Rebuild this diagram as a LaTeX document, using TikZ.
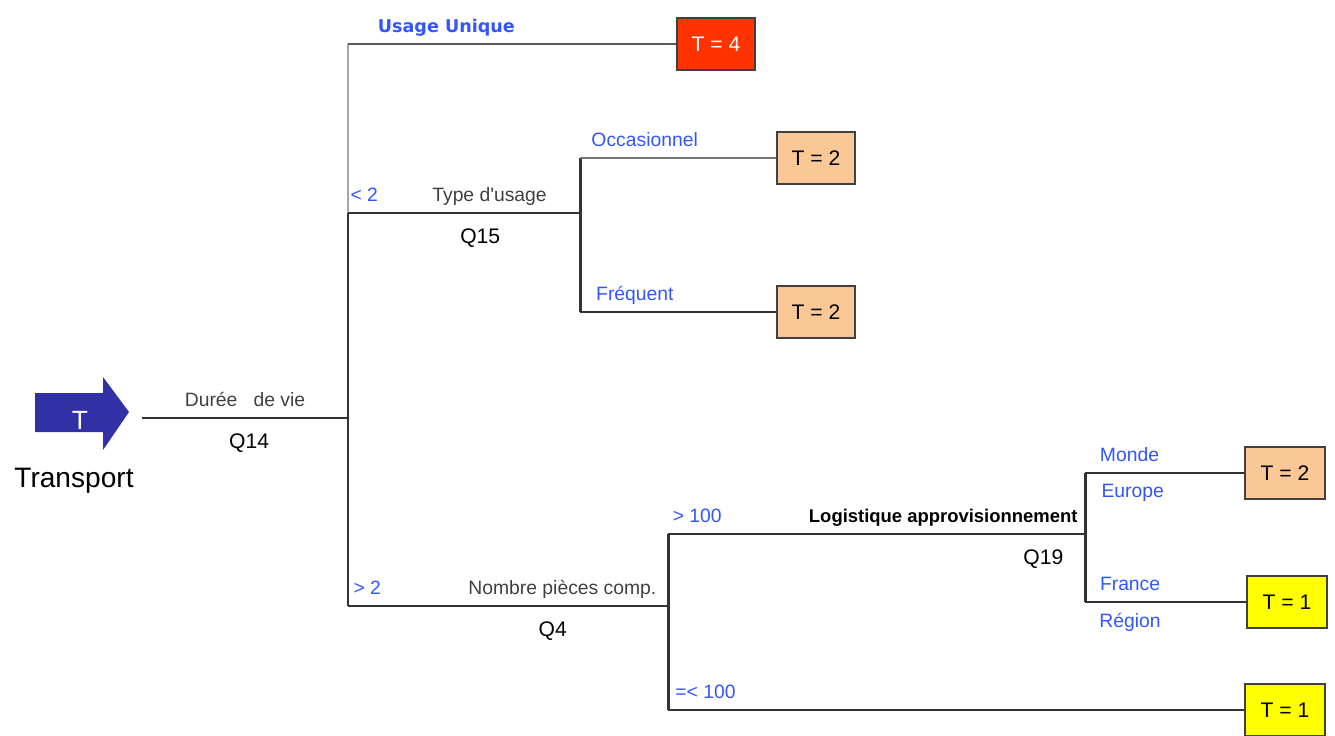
\documentclass[tikz,border=0pt]{standalone}
\usepackage{fontspec}
\setmainfont{Liberation Sans}
\newfontfamily\uniquefont{DejaVu Sans}
\usetikzlibrary{positioning}

\definecolor{lblblue}{RGB}{51,85,255}
\definecolor{arrowblue}{RGB}{50,48,165}
\definecolor{boxred}{RGB}{255,51,0}
\definecolor{boxpeach}{RGB}{250,200,150}
\definecolor{boxyellow}{RGB}{255,255,0}

\begin{document}
\begin{tikzpicture}[x=0.02cm, y=-0.02cm]
        \useasboundingbox (0,0) rectangle (1335,736);
        \tikzstyle{every node}=[font=\fontsize{11}{13}\selectfont]
        \tikzstyle{result}=[draw=black!75, line width=1.2pt, minimum width=1.56cm, minimum height=1.04cm, inner sep=0pt, text=black, font=\fontsize{12}{14}\selectfont]
        \tikzstyle{edge}=[draw, line width=1.7pt, black!80]
        \tikzstyle{answer}=[text=lblblue, text depth=0.25em]
        \tikzstyle{question}=[text=black!75, text depth=0.25em]
        \tikzstyle{qnum}=[text=black, font=\fontsize{12}{14}\selectfont]

        % Start arrow
        \fill[arrowblue] (35,393) -- (103,393) -- (103,377) -- (129,412)
                -- (103,450) -- (103,432) -- (35,432) -- cycle;
        \node[text=white, font=\fontsize{15}{17}\selectfont] (tt) at (80,420) {T};
        \node[font=\fontsize{16}{19}\selectfont] (transport) at (74,481) {Transport};

        % Result boxes
        \node[result, fill=boxred, text=white] (t4) at (716,44) {T = 4};
        \node[result, fill=boxpeach] (occ) at (816,158) {T = 2};
        \node[result, fill=boxpeach] (freq) at (816,312) {T = 2};
        \node[result, fill=boxpeach, minimum width=1.6cm] (monde) at (1285,473) {T = 2};
        \node[result, fill=boxyellow, minimum width=1.6cm] (france) at (1287,602) {T = 1};
        \node[result, fill=boxyellow, minimum width=1.6cm] (low) at (1285,710) {T = 1};

        % Junctions
        \coordinate (q14in) at (142,418);
        \coordinate (q14) at (348,418);
        \coordinate (q14up) at (348,44);
        \coordinate (q14lt) at (348,213);
        \coordinate (q14gt) at (348,606);
        \coordinate (q15) at (580,213);
        \coordinate (q4) at (668,606);
        \coordinate (q19) at (1085,534);

        % Edges
        \draw[edge] (q14in) -- node[question, above] {Durée\ \ \ de vie}
                node[qnum, below=5pt, pos=.52] {Q14} (q14);
        \draw[edge, line width=0.9pt, black!35] (q14up) -- (q14lt);
        \draw[edge] (q14lt) -- (q14gt);
        \draw[edge, black!65] (q14up) -- node[answer, above, pos=.3, font=\uniquefont\bfseries\fontsize{10}{13}\selectfont] {Usage Unique} (t4);

        % Q15
        \draw[edge] (q14lt) -- node[answer, above, pos=.07] {< 2}
                node[question, above, pos=.61] {Type d\textquotesingle usage}
                node[qnum, below=5pt, pos=.57] {Q15} (q15);
        \draw[edge] (q15 |- occ) -- (q15 |- freq);
        \draw[edge, black!55] (q15 |- occ) -- node[answer, above, pos=.33] {Occasionnel} (occ);
        \draw[edge] (q15 |- freq) -- node[answer, above, pos=.28] {Fréquent} (freq);

        % Q4
        \draw[edge] (q14gt) -- node[answer, above, pos=.06] {> 2}
                node[question, above, pos=.67] {Nombre pièces comp.}
                node[qnum, below=5pt, pos=.64] {Q4} (q4);
        \draw[edge] (q4 |- q19) -- (q4 |- low);
        \draw[edge] (q4 |- q19) -- node[answer, above, pos=.07] {> 100}
                node[above, pos=.66, text=black, font=\bfseries\fontsize{10.5}{13}\selectfont, text depth=0.25em] {Logistique approvisionnement}
                node[qnum, below=5pt, pos=.9] {Q19} (q19);
        \draw[edge] (q4 |- low) -- node[answer, above, pos=.065] {=< 100} (low);

        % Q19
        \draw[edge] (q19 |- monde) -- (q19 |- france);
        \draw[edge] (q19 |- monde) -- node[answer, above, pos=.28] {Monde}
                node[answer, below=2pt, pos=.3] {Europe} (monde);
        \draw[edge] (q19 |- france) -- node[answer, above, pos=.28] {France}
                node[answer, below=2pt, pos=.28] {Région} (france);

\end{tikzpicture}
\end{document}
